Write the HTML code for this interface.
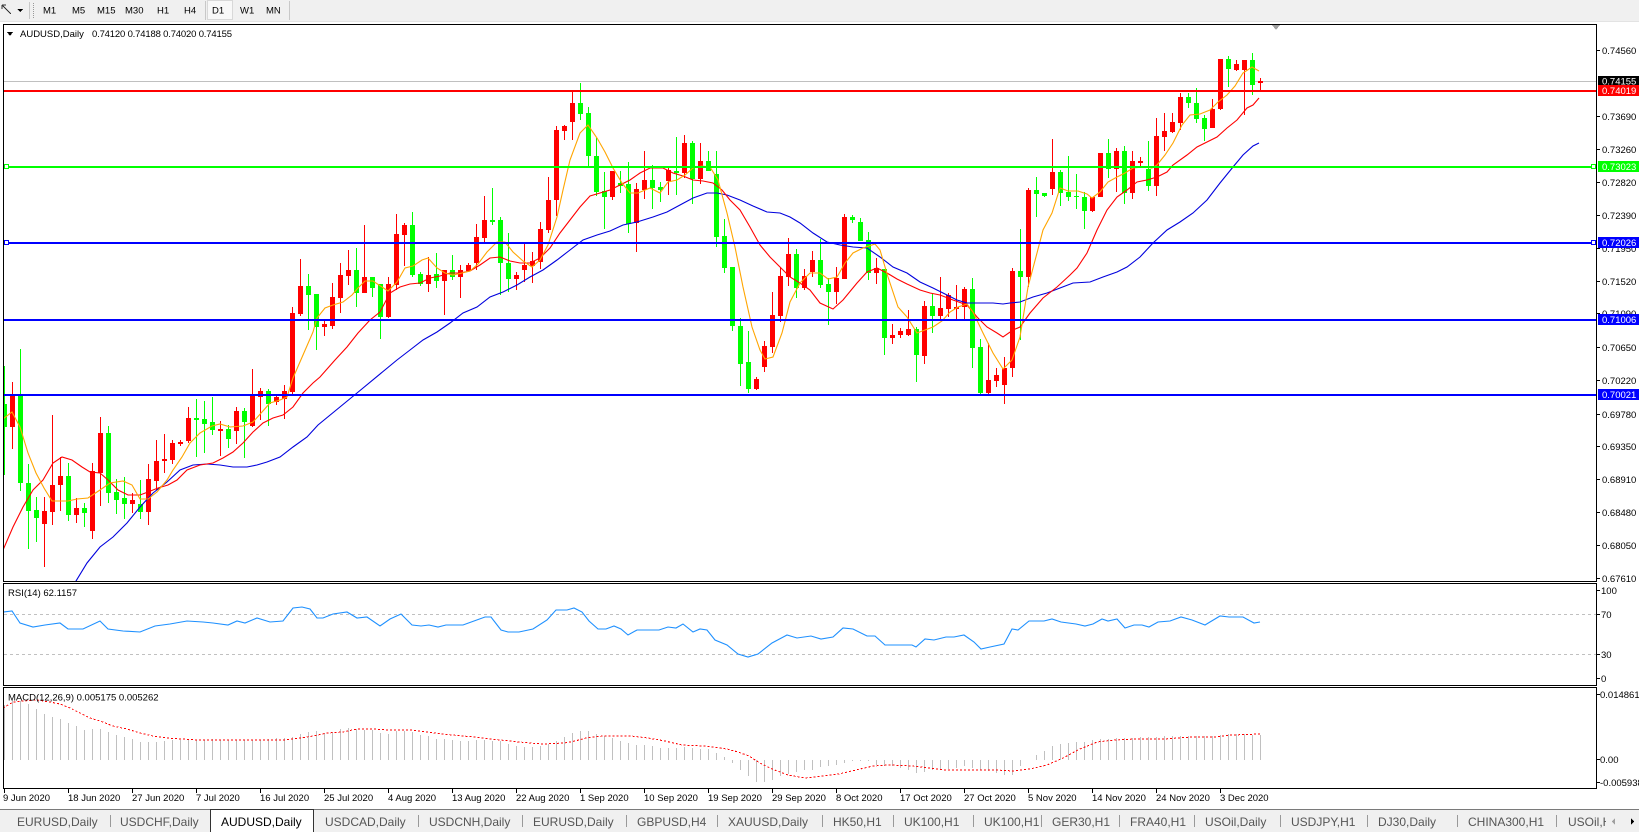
<!DOCTYPE html>
<html><head><meta charset="utf-8"><style>
html,body{margin:0;padding:0;background:#fff;overflow:hidden;width:1639px;height:832px}
svg{display:block}
text{font-family:"Liberation Sans",Arial,sans-serif}
.ax{font-size:9.5px;fill:#000}
.tb{font-size:12px;fill:#555}
</style></head><body>
<svg width="1639" height="832" viewBox="0 0 1639 832" xmlns="http://www.w3.org/2000/svg" shape-rendering="crispEdges">
<defs>
<clipPath id="cm"><rect x="4" y="25" width="1592" height="556"/></clipPath>
<clipPath id="cr"><rect x="4" y="584" width="1592" height="101"/></clipPath>
<clipPath id="cd"><rect x="4" y="688" width="1592" height="100"/></clipPath>
</defs>
<rect width="1639" height="832" fill="#fff"/>
<!-- toolbar -->
<rect x="0" y="0" width="1639" height="21" fill="#f0f0f0"/>
<line x1="0" y1="21.5" x2="1639" y2="21.5" stroke="#e3e3e3"/>
<path d="M2 5l6 6M2 5h4M2 5v4M8 11l3 3" stroke="#333" fill="none"/>
<polygon points="17,9 23,9 20,12" fill="#000"/>
<line x1="29.5" y1="2" x2="29.5" y2="19" stroke="#c8c8c8"/>
<line x1="33.5" y1="3" x2="33.5" y2="18" stroke="#999" stroke-dasharray="1 1"/>
<rect x="207.5" y="0.5" width="25" height="19" fill="#f8f8f8" stroke="#d8d8d8"/>
<line x1="205.5" y1="1" x2="205.5" y2="20" stroke="#c8c8c8"/>
<line x1="289.5" y1="1" x2="289.5" y2="20" stroke="#c8c8c8"/>
<g class="ax" style="font-size:9.5px">
<text x="43" y="13.5">M1</text><text x="72" y="13.5">M5</text><text x="97" y="13.5">M15</text><text x="125" y="13.5">M30</text><text x="157" y="13.5">H1</text><text x="184" y="13.5">H4</text><text x="212" y="13.5">D1</text><text x="240" y="13.5">W1</text><text x="266" y="13.5">MN</text>
</g>

<!-- main chart -->
<g clip-path="url(#cm)">
<line x1="4" y1="81.5" x2="1596" y2="81.5" stroke="#c0c0c0"/>
<path fill="#ff0000" d="M10 396h5v31h-5zM12 382h1v67h-1zM42 511h5v13h-5zM44 497h1v70h-1zM50 485h5v27h-5zM52 415h1v110h-1zM58 476h5v9h-5zM60 457h1v54h-1zM74 508h5v7h-5zM76 498h1v25h-1zM90 471h5v60h-5zM92 463h1v76h-1zM98 433h5v40h-5zM100 417h1v89h-1zM130 500h5v4h-5zM132 493h1v20h-1zM146 479h5v33h-5zM148 464h1v61h-1zM154 461h5v20h-5zM156 440h1v50h-1zM162 459h5v2h-5zM164 434h1v39h-1zM170 443h5v17h-5zM172 440h1v24h-1zM178 442h5v2h-5zM180 440h1v6h-1zM186 418h5v23h-5zM188 407h1v36h-1zM218 429h5v2h-5zM220 421h1v35h-1zM234 411h5v20h-5zM236 407h1v37h-1zM250 396h5v30h-5zM252 369h1v58h-1zM258 391h5v6h-5zM260 388h1v32h-1zM274 397h5v5h-5zM276 396h1v9h-1zM282 391h5v8h-5zM284 385h1v34h-1zM290 313h5v79h-5zM292 307h1v87h-1zM298 286h5v28h-5zM300 259h1v57h-1zM322 324h5v3h-5zM324 320h1v16h-1zM330 297h5v29h-5zM332 283h1v46h-1zM338 275h5v23h-5zM340 263h1v50h-1zM346 270h5v6h-5zM348 250h1v35h-1zM362 277h5v16h-5zM364 225h1v68h-1zM386 284h5v33h-5zM388 277h1v41h-1zM394 234h5v51h-5zM396 214h1v76h-1zM402 225h5v10h-5zM404 223h1v43h-1zM426 275h5v9h-5zM428 257h1v35h-1zM442 270h5v11h-5zM444 270h1v45h-1zM458 270h5v7h-5zM460 265h1v33h-1zM466 265h5v6h-5zM468 263h1v9h-1zM474 237h5v26h-5zM476 224h1v46h-1zM482 220h5v18h-5zM484 196h1v47h-1zM514 275h5v4h-5zM516 272h1v18h-1zM522 265h5v5h-5zM524 243h1v39h-1zM530 261h5v5h-5zM532 252h1v31h-1zM538 229h5v33h-5zM540 222h1v47h-1zM546 200h5v30h-5zM548 177h1v56h-1zM554 130h5v70h-5zM556 126h1v90h-1zM562 126h5v5h-5zM564 125h1v15h-1zM570 103h5v19h-5zM572 91h1v49h-1zM610 171h5v26h-5zM612 171h1v29h-1zM634 189h5v34h-5zM636 183h1v69h-1zM642 180h5v10h-5zM644 151h1v48h-1zM666 170h5v11h-5zM668 167h1v28h-1zM682 143h5v30h-5zM684 135h1v43h-1zM698 161h5v18h-5zM700 143h1v41h-1zM754 379h5v10h-5zM756 377h1v13h-1zM762 346h5v21h-5zM764 341h1v31h-1zM770 315h5v32h-5zM772 292h1v61h-1zM778 276h5v40h-5zM780 267h1v55h-1zM786 254h5v23h-5zM788 238h1v48h-1zM802 276h5v12h-5zM804 269h1v21h-1zM810 260h5v12h-5zM812 251h1v26h-1zM834 278h5v14h-5zM836 267h1v37h-1zM842 217h5v62h-5zM844 214h1v65h-1zM874 268h5v5h-5zM876 258h1v26h-1zM890 335h5v3h-5zM892 324h1v20h-1zM898 331h5v4h-5zM900 328h1v10h-1zM906 329h5v6h-5zM908 310h1v26h-1zM922 306h5v50h-5zM924 301h1v63h-1zM938 308h5v8h-5zM940 277h1v43h-1zM946 295h5v14h-5zM948 293h1v24h-1zM954 307h5v2h-5zM956 285h1v34h-1zM962 289h5v18h-5zM964 287h1v32h-1zM986 380h5v13h-5zM988 343h1v51h-1zM994 375h5v6h-5zM996 368h1v19h-1zM1002 368h5v17h-5zM1004 357h1v47h-1zM1010 271h5v97h-5zM1012 268h1v109h-1zM1026 190h5v87h-5zM1028 188h1v99h-1zM1050 172h5v17h-5zM1052 139h1v56h-1zM1090 197h5v14h-5zM1092 197h1v15h-1zM1098 153h5v44h-5zM1114 151h5v18h-5zM1116 148h1v44h-1zM1130 161h5v32h-5zM1132 151h1v48h-1zM1138 161h5v2h-5zM1140 157h1v11h-1zM1154 136h5v50h-5zM1156 118h1v78h-1zM1162 131h5v6h-5zM1164 113h1v38h-1zM1170 122h5v10h-5zM1172 113h1v20h-1zM1178 97h5v26h-5zM1180 93h1v37h-1zM1210 109h5v19h-5zM1212 99h1v29h-1zM1218 59h5v50h-5zM1220 59h1v51h-1zM1234 64h5v6h-5zM1236 60h1v11h-1zM1242 60h5v10h-5zM1244 60h1v55h-1zM1258 81h5v2h-5zM1260 78h1v12h-1z"/>
<path fill="#00ff00" d="M2 404h5v23h-5zM4 366h1v109h-1zM18 396h5v87h-5zM20 349h1v142h-1zM26 483h5v28h-5zM28 464h1v85h-1zM34 510h5v8h-5zM36 497h1v45h-1zM66 476h5v39h-5zM68 463h1v58h-1zM82 508h5v5h-5zM84 503h1v24h-1zM106 433h5v60h-5zM108 426h1v77h-1zM114 492h5v8h-5zM116 479h1v35h-1zM122 498h5v6h-5zM124 477h1v42h-1zM138 504h5v8h-5zM140 480h1v39h-1zM194 418h5v2h-5zM196 399h1v58h-1zM202 419h5v5h-5zM204 401h1v52h-1zM210 422h5v8h-5zM212 397h1v38h-1zM226 429h5v10h-5zM228 425h1v23h-1zM242 411h5v11h-5zM244 408h1v50h-1zM266 391h5v13h-5zM268 389h1v37h-1zM306 286h5v9h-5zM308 274h1v56h-1zM314 294h5v33h-5zM316 294h1v56h-1zM354 270h5v23h-5zM356 248h1v59h-1zM370 277h5v11h-5zM372 277h1v20h-1zM378 284h5v33h-5zM380 284h1v55h-1zM410 225h5v50h-5zM412 212h1v65h-1zM418 274h5v10h-5zM420 272h1v14h-1zM434 274h5v7h-5zM436 253h1v35h-1zM450 270h5v7h-5zM452 255h1v25h-1zM490 220h5v2h-5zM492 188h1v37h-1zM498 220h5v43h-5zM500 217h1v78h-1zM506 263h5v16h-5zM508 233h1v59h-1zM578 103h5v11h-5zM580 83h1v37h-1zM586 113h5v43h-5zM588 107h1v61h-1zM594 156h5v36h-5zM596 138h1v58h-1zM602 191h5v6h-5zM604 172h1v57h-1zM618 183h5v3h-5zM620 171h1v22h-1zM626 184h5v40h-5zM628 162h1v71h-1zM650 180h5v8h-5zM652 165h1v44h-1zM658 187h5v3h-5zM660 182h1v20h-1zM674 171h5v2h-5zM676 137h1v58h-1zM690 143h5v36h-5zM692 141h1v63h-1zM706 161h5v10h-5zM708 151h1v20h-1zM714 174h5v63h-5zM716 151h1v96h-1zM722 236h5v32h-5zM724 219h1v54h-1zM730 267h5v59h-5zM732 267h1v64h-1zM738 326h5v38h-5zM740 318h1v68h-1zM746 362h5v27h-5zM748 331h1v62h-1zM794 254h5v34h-5zM796 249h1v49h-1zM818 260h5v25h-5zM820 239h1v49h-1zM826 284h5v8h-5zM828 278h1v47h-1zM850 217h5v3h-5zM852 215h1v8h-1zM858 222h5v19h-5zM860 218h1v23h-1zM866 240h5v33h-5zM868 232h1v48h-1zM882 269h5v69h-5zM884 269h1v86h-1zM914 329h5v26h-5zM916 327h1v55h-1zM930 306h5v10h-5zM932 293h1v40h-1zM970 289h5v59h-5zM972 278h1v90h-1zM978 347h5v46h-5zM980 339h1v55h-1zM1018 271h5v6h-5zM1020 229h1v111h-1zM1034 190h5v4h-5zM1036 177h1v40h-1zM1042 193h5v3h-5zM1044 193h1v4h-1zM1058 172h5v21h-5zM1060 170h1v36h-1zM1066 192h5v5h-5zM1068 156h1v45h-1zM1074 196h5v1h-5zM1076 174h1v35h-1zM1082 197h5v14h-5zM1084 192h1v37h-1zM1106 153h5v16h-5zM1108 139h1v39h-1zM1122 151h5v42h-5zM1124 146h1v58h-1zM1146 169h5v17h-5zM1148 141h1v50h-1zM1186 97h5v6h-5zM1188 93h1v15h-1zM1194 103h5v16h-5zM1196 88h1v35h-1zM1202 118h5v11h-5zM1204 115h1v26h-1zM1226 59h5v10h-5zM1228 56h1v31h-1zM1250 60h5v25h-5zM1252 53h1v42h-1z"/>
<g fill="none" shape-rendering="auto" stroke-width="1.1">
<polyline stroke="#0000dd" points="70,592 76,581 87,563 100,547 113,537 127,523 140,507 153,493 167,482 180,470 193,465 207,464 220,465 233,467 247,467 257,465 267,462 280,457 293,447 307,437 318,425 357,393 397,360 410,350 423,340 437,332 450,323 463,313 477,307 490,297 503,292 517,285 530,277 543,270 557,260 570,250 583,240 597,235 610,231 623,225 637,222 653,217 667,212 680,205 693,198 707,193 717,193 727,195 740,200 753,206 767,212 780,213 790,217 800,223 813,233 827,242 840,245 853,247 867,248 880,257 893,267 907,273 920,282 933,288 947,295 957,300 967,303 980,303 993,303 1003,304 1010,303 1020,302 1033,297 1047,293 1060,288 1073,283 1090,282 1103,277 1117,272 1127,267 1140,257 1153,243 1167,230 1180,222 1193,213 1207,200 1220,183 1233,167 1243,155 1253,146 1259,143"/>
<polyline stroke="#ff0000" points="3,550 13,527 23,507 33,490 43,480 53,463 62,457 72,460 82,467 90,472 100,473 108,480 118,490 128,495 140,495 148,492 158,488 168,485 177,480 187,470 200,465 213,463 223,458 233,452 243,443 253,432 263,423 273,418 283,415 293,407 303,393 313,383 320,377 335,360 347,347 358,333 370,320 380,312 390,293 400,287 410,284 420,283 430,278 440,276 450,273 460,273 470,271 480,265 490,258 500,257 510,261 520,263 530,263 540,258 550,248 560,233 570,220 580,207 590,196 600,193 610,190 620,185 630,180 640,173 650,168 663,168 673,173 683,176 693,180 703,181 713,183 722,190 730,200 740,210 750,227 760,245 770,257 780,267 790,277 800,283 810,290 820,303 833,309 843,300 857,283 867,272 877,268 887,273 897,279 907,284 920,290 930,293 940,295 953,300 967,305 977,317 987,327 997,333 1003,337 1013,330 1020,327 1030,313 1043,298 1057,287 1070,275 1077,268 1087,253 1097,230 1107,210 1117,197 1127,190 1137,182 1147,180 1157,177 1167,172 1173,165 1187,155 1197,147 1207,142 1217,137 1227,128 1237,120 1247,108 1253,105 1259,98"/>
<polyline stroke="#ffa500" points="3,419 12,412 20,427 28,453 36,473 44,488 52,501 60,501 68,501 77,499 88,498 100,490 110,483 123,481 132,485 140,499 148,499 157,492 167,480 173,470 182,457 190,443 200,433 212,426 220,424 230,427 243,426 253,422 262,412 270,403 280,400 287,397 293,378 303,355 313,332 317,318 325,308 333,305 343,302 352,295 358,288 365,281 373,281 382,287 388,291 397,282 405,268 413,266 422,260 428,258 437,268 445,273 453,275 462,273 470,271 478,264 487,252 497,242 505,242 513,252 523,261 532,267 540,260 548,245 557,217 563,190 570,160 580,133 588,125 597,138 605,152 613,168 622,183 630,193 638,193 650,188 660,193 668,182 677,180 685,175 693,168 702,166 710,167 718,180 727,213 735,247 743,287 752,327 760,350 765,359 773,357 782,333 790,302 800,283 810,273 820,273 828,279 837,277 845,263 853,253 863,248 875,244 880,250 888,277 898,307 907,317 917,333 925,330 933,327 942,321 950,312 958,307 967,304 973,312 983,333 993,353 1003,369 1012,360 1020,337 1028,287 1037,253 1043,230 1052,213 1060,188 1068,191 1078,191 1087,194 1092,198 1100,192 1108,182 1117,177 1125,173 1133,168 1143,167 1152,168 1157,165 1165,155 1173,143 1182,125 1190,115 1200,114 1210,110 1218,102 1227,95 1235,86 1243,73 1252,67 1259,71"/>
</g>
<rect x="4" y="90" width="1592" height="2" fill="#ff0000"/>
<rect x="4" y="166" width="1592" height="2" fill="#00ff00"/>
<rect x="4" y="242" width="1592" height="2" fill="#0000ff"/>
<rect x="4" y="319" width="1592" height="2" fill="#0000ff"/>
<rect x="4" y="394" width="1592" height="2" fill="#0000ff"/>
<rect x="4.5" y="164.5" width="4" height="4" fill="#fff" stroke="#00ff00"/>
<rect x="1591.5" y="164.5" width="4" height="4" fill="#fff" stroke="#00ff00"/>
<rect x="4.5" y="240.5" width="4" height="4" fill="#fff" stroke="#0000ff"/>
<rect x="1591.5" y="240.5" width="4" height="4" fill="#fff" stroke="#0000ff"/>
</g>
<polygon points="1272,25 1280,25 1276,30" fill="#a0a0a0"/>
<polygon points="7,32 13,32 10,36" fill="#000"/>
<text class="ax" x="20" y="37">AUDUSD,Daily</text>
<text class="ax" x="92" y="37" textLength="140" lengthAdjust="spacing">0.74120 0.74188 0.74020 0.74155</text>
<rect x="3.5" y="24.5" width="1593" height="557" fill="none" stroke="#000"/>

<!-- price axis -->
<g stroke="#000">
<path d="M1597 50.5h3M1597 116.5h3M1597 149.5h3M1597 182.5h3M1597 215.5h3M1597 248.5h3M1597 281.5h3M1597 313.5h3M1597 347.5h3M1597 380.5h3M1597 414.5h3M1597 446.5h3M1597 479.5h3M1597 512.5h3M1597 545.5h3M1597 578.5h3"/>
</g>
<g class="ax">
<text x="1602" y="54">0.74560</text>
<text x="1602" y="120">0.73690</text>
<text x="1602" y="153">0.73260</text>
<text x="1602" y="186">0.72820</text>
<text x="1602" y="219">0.72390</text>
<text x="1602" y="252">0.71950</text>
<text x="1602" y="285">0.71520</text>
<text x="1602" y="317">0.71090</text>
<text x="1602" y="351">0.70650</text>
<text x="1602" y="384">0.70220</text>
<text x="1602" y="418">0.69780</text>
<text x="1602" y="450">0.69350</text>
<text x="1602" y="483">0.68910</text>
<text x="1602" y="516">0.68480</text>
<text x="1602" y="549">0.68050</text>
<text x="1602" y="582">0.67610</text>
</g>
<rect x="1598" y="76" width="41" height="10" fill="#000"/>
<text class="ax" x="1602" y="84.5" style="fill:#fff">0.74155</text>
<rect x="1598" y="85" width="41" height="11" fill="#ff0000"/>
<text class="ax" x="1602" y="94" style="fill:#fff">0.74019</text>
<rect x="1598" y="161" width="41" height="11" fill="#00ff00"/>
<text class="ax" x="1602" y="170" style="fill:#fff">0.73023</text>
<rect x="1598" y="237" width="41" height="11" fill="#0000ff"/>
<text class="ax" x="1602" y="246" style="fill:#fff">0.72026</text>
<rect x="1598" y="314" width="41" height="11" fill="#0000ff"/>
<text class="ax" x="1602" y="323" style="fill:#fff">0.71006</text>
<rect x="1598" y="389" width="41" height="11" fill="#0000ff"/>
<text class="ax" x="1602" y="398" style="fill:#fff">0.70021</text>

<!-- RSI -->
<rect x="3.5" y="583.5" width="1593" height="102" fill="none" stroke="#000"/>
<g clip-path="url(#cr)">
<line x1="4" y1="614.5" x2="1596" y2="614.5" stroke="#c0c0c0" stroke-dasharray="3 3"/>
<line x1="4" y1="654.5" x2="1596" y2="654.5" stroke="#c0c0c0" stroke-dasharray="3 3"/>
<polyline fill="none" stroke="#1e90ff" shape-rendering="auto" stroke-width="1.1" points="3,612 12,611 20,623 33,627 45,625 60,623 68,629 83,629 100,621 108,629 123,631 140,632 155,626 170,624 187,621 203,622 213,623 228,625 237,621 245,623 257,618 270,622 283,621 293,608 302,607 310,609 317,618 323,618 333,614 347,612 357,618 367,617 380,626 390,619 401,614 412,625 421,626 429,625 438,627 446,625 463,625 474,621 485,617 491,617 501,630 508,632 519,632 533,629 547,620 556,610 567,610 574,608 582,612 589,621 598,629 606,629 614,626 621,629 628,635 637,630 648,630 659,630 668,627 676,628 683,624 693,632 700,629 707,630 715,640 727,645 738,654 748,657 758,654 772,643 787,635 797,638 811,636 821,639 833,637 843,628 853,629 867,636 875,636 885,645 898,645 912,645 916,647 925,639 934,640 946,637 954,637 964,635 974,642 981,649 990,647 1004,644 1012,629 1018,630 1029,621 1044,621 1052,619 1061,622 1076,624 1085,626 1093,624 1102,619 1108,621 1117,619 1125,628 1134,625 1142,625 1149,627 1158,622 1170,621 1181,617 1192,620 1205,625 1220,616 1229,617 1243,617 1254,623 1260,622"/>
</g>
<text class="ax" x="8" y="596">RSI(14) 62.1157</text>
<path stroke="#000" d="M1597 590.5h3M1597 614.5h3M1597 654.5h3M1597 678.5h3"/>
<g class="ax">
<text x="1601" y="594">100</text>
<text x="1601" y="618">70</text>
<text x="1601" y="658">30</text>
<text x="1601" y="682">0</text>
</g>

<!-- MACD -->
<rect x="3.5" y="687.5" width="1593" height="101" fill="none" stroke="#000"/>
<g clip-path="url(#cd)">
<path stroke="#c0c0c0" fill="none" d="M4.5 705V760M12.5 700V760M20.5 701V760M28.5 704V760M36.5 709V760M44.5 714V760M52.5 717V760M60.5 719V760M68.5 723V760M76.5 726V760M84.5 730V760M92.5 729V760M100.5 729V760M108.5 732V760M116.5 735V760M124.5 737V760M132.5 739V760M140.5 742V760M148.5 742V760M156.5 742V760M164.5 741V760M172.5 740V760M180.5 740V760M188.5 740V760M196.5 740V760M204.5 740V760M212.5 739V760M220.5 740V760M228.5 740V760M236.5 740V760M244.5 740V760M252.5 740V760M260.5 740V760M268.5 739V760M276.5 738V760M284.5 738V760M292.5 737V760M300.5 734V760M308.5 732V760M316.5 731V760M324.5 733V760M332.5 732V760M340.5 729V760M348.5 728V760M356.5 729V760M364.5 730V760M372.5 730V760M380.5 733V760M388.5 734V760M396.5 731V760M404.5 731V760M412.5 732V760M420.5 735V760M428.5 736V760M436.5 739V760M444.5 739V760M452.5 740V760M460.5 741V760M468.5 741V760M476.5 740V760M484.5 740V760M492.5 741V760M500.5 741V760M508.5 744V760M516.5 746V760M524.5 747V760M532.5 747V760M540.5 746V760M548.5 744V760M556.5 741V760M564.5 737V760M572.5 733V760M580.5 731V760M588.5 731V760M596.5 734V760M604.5 736V760M612.5 738V760M620.5 741V760M628.5 743V760M636.5 745V760M644.5 745V760M652.5 746V760M660.5 748V760M668.5 748V760M676.5 748V760M684.5 747V760M692.5 748V760M700.5 749V760M708.5 749V760M716.5 753V760M724.5 757V760M732.5 760V763M740.5 760V770M748.5 760V776M756.5 760V782M764.5 760V782M772.5 760V780M780.5 760V776M788.5 760V774M796.5 760V772M804.5 760V770M812.5 760V770M820.5 760V767M828.5 760V766M836.5 760V765M844.5 760V763M852.5 760V761M860.5 760V761M868.5 760V761M876.5 760V765M884.5 760V766M892.5 760V766M900.5 760V768M908.5 760V770M916.5 760V773M924.5 760V772M932.5 760V770M940.5 760V770M948.5 760V769M956.5 760V768M964.5 760V766M972.5 760V768M980.5 760V770M988.5 760V771M996.5 760V773M1004.5 760V775M1012.5 760V775M1020.5 760V766M1036.5 755V760M1044.5 751V760M1052.5 746V760M1060.5 744V760M1068.5 743V760M1076.5 742V760M1084.5 742V760M1092.5 740V760M1100.5 739V760M1108.5 739V760M1116.5 738V760M1124.5 738V760M1132.5 738V760M1140.5 737V760M1148.5 737V760M1156.5 737V760M1164.5 736V760M1172.5 736V760M1180.5 736V760M1188.5 736V760M1196.5 736V760M1204.5 736V760M1212.5 736V760M1220.5 735V760M1228.5 734V760M1236.5 734V760M1244.5 734V760M1252.5 735V760M1260.5 735V760"/>
<polyline fill="none" stroke="#ff0000" stroke-dasharray="2 2" points="3,708 13,702 23,701 37,700 50,702 60,704 70,708 80,713 90,718 100,721 113,726 127,729 140,733 153,736 167,738 180,739 200,740 233,740 267,740 283,740 300,738 313,736 327,733 343,732 357,729 373,729 390,730 412,730 435,733 452,735 474,737 491,739 519,742 542,744 564,743 575,741 586,738 603,736 631,736 648,738 665,741 682,745 704,746 727,749 738,752 749,756 760,763 772,769 788,775 805,778 822,776 839,774 856,770 873,766 889,765 912,766 929,768 946,770 968,770 996,770 1013,771 1030,769 1047,765 1063,758 1080,749 1097,742 1114,740 1136,739 1164,739 1192,737 1215,737 1232,735 1260,734"/>
</g>
<text class="ax" x="8" y="700.5">MACD(12,26,9) 0.005175 0.005262</text>
<path stroke="#000" d="M1597 694.5h3M1597 759.5h3M1597 782.5h3"/>
<g class="ax">
<text x="1600" y="698">0.014861</text>
<text x="1600" y="763">0.00</text>
<text x="1600" y="786">-0.005938</text>
</g>

<!-- date axis -->
<path stroke="#000" d="M4.5 789v4M68.5 789v4M132.5 789v4M196.5 789v4M260.5 789v4M324.5 789v4M388.5 789v4M452.5 789v4M516.5 789v4M580.5 789v4M644.5 789v4M708.5 789v4M772.5 789v4M836.5 789v4M900.5 789v4M964.5 789v4M1028.5 789v4M1092.5 789v4M1156.5 789v4M1220.5 789v4"/>
<g class="ax">
<text x="3" y="801">9 Jun 2020</text>
<text x="68" y="801">18 Jun 2020</text>
<text x="132" y="801">27 Jun 2020</text>
<text x="196" y="801">7 Jul 2020</text>
<text x="260" y="801">16 Jul 2020</text>
<text x="324" y="801">25 Jul 2020</text>
<text x="388" y="801">4 Aug 2020</text>
<text x="452" y="801">13 Aug 2020</text>
<text x="516" y="801">22 Aug 2020</text>
<text x="580" y="801">1 Sep 2020</text>
<text x="644" y="801">10 Sep 2020</text>
<text x="708" y="801">19 Sep 2020</text>
<text x="772" y="801">29 Sep 2020</text>
<text x="836" y="801">8 Oct 2020</text>
<text x="900" y="801">17 Oct 2020</text>
<text x="964" y="801">27 Oct 2020</text>
<text x="1028" y="801">5 Nov 2020</text>
<text x="1092" y="801">14 Nov 2020</text>
<text x="1156" y="801">24 Nov 2020</text>
<text x="1220" y="801">3 Dec 2020</text>
</g>

<!-- tab bar -->
<rect x="0" y="809" width="1639" height="23" fill="#f0f0f0"/>
<line x1="0" y1="809.5" x2="1639" y2="809.5" stroke="#7a7a7a"/>
<rect x="210.5" y="809.5" width="103" height="23" fill="#fff" stroke="#333"/>
<g stroke="#999">
<path d="M110.5 815v12M418.5 815v12M522.5 815v12M626.5 815v12M717.5 815v12M822.5 815v12M893.5 815v12M973.5 815v12M1041.5 815v12M1119.5 815v12M1194.5 815v12M1280.5 815v12M1367.5 815v12M1457.5 815v12M1556.5 815v12"/>
</g>
<g class="tb">
<text x="17" y="826">EURUSD,Daily</text>
<text x="120" y="826">USDCHF,Daily</text>
<text x="221" y="826" style="fill:#000">AUDUSD,Daily</text>
<text x="325" y="826">USDCAD,Daily</text>
<text x="429" y="826">USDCNH,Daily</text>
<text x="533" y="826">EURUSD,Daily</text>
<text x="637" y="826">GBPUSD,H4</text>
<text x="728" y="826">XAUUSD,Daily</text>
<text x="833" y="826">HK50,H1</text>
<text x="904" y="826">UK100,H1</text>
<text x="984" y="826">UK100,H1</text>
<text x="1052" y="826">GER30,H1</text>
<text x="1130" y="826">FRA40,H1</text>
<text x="1205" y="826">USOil,Daily</text>
<text x="1291" y="826">USDJPY,H1</text>
<text x="1378" y="826">DJ30,Daily</text>
<text x="1468" y="826">CHINA300,H1</text>
<text x="1568" y="826">USOil,H1</text>
</g>
<rect x="1606" y="810" width="33" height="22" fill="#f0f0f0"/>
<polygon points="1615,818 1615,825 1612,821.5" fill="#a0a0a0"/>
<polygon points="1631,818 1631,825 1634,821.5" fill="#000"/>
</svg>
</body></html>
